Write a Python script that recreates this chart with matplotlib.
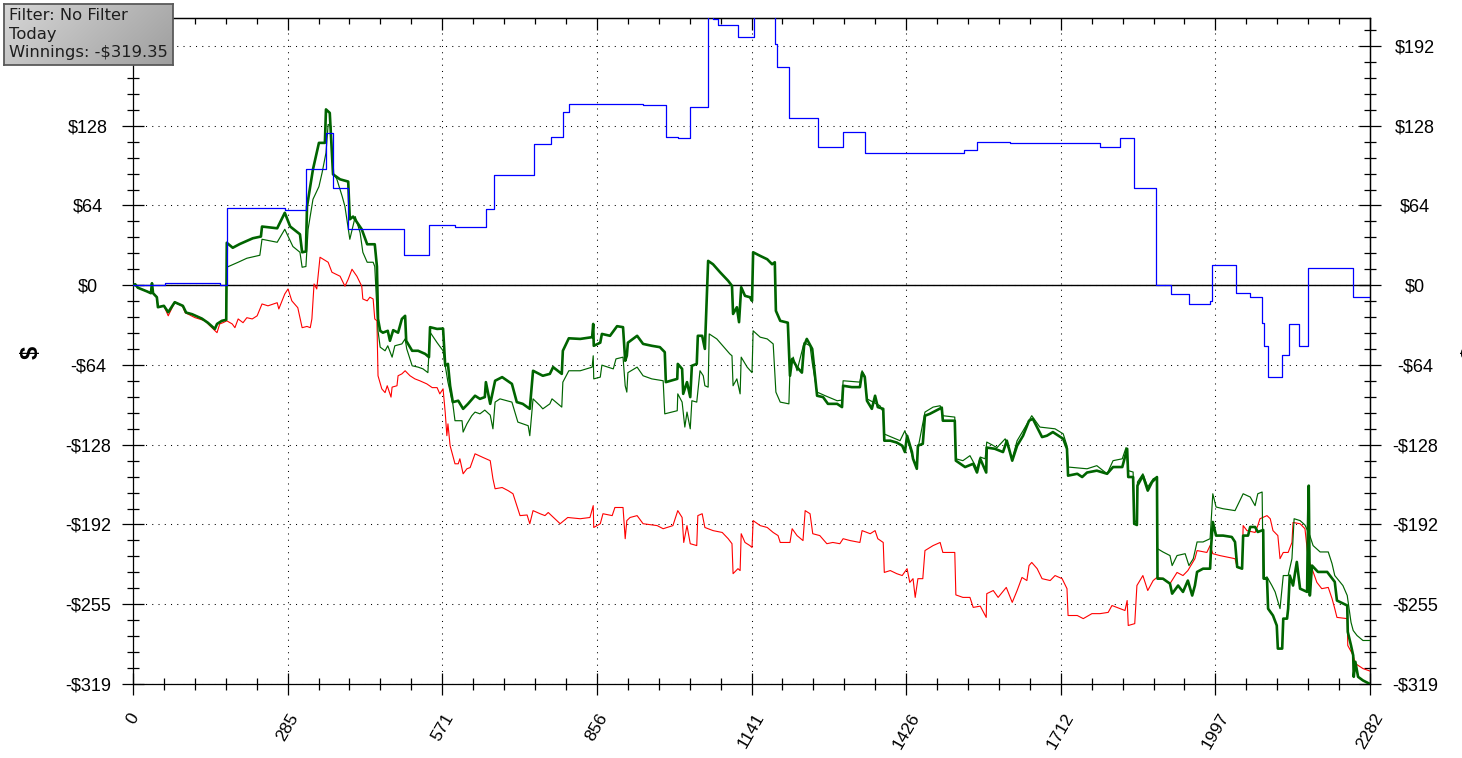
import matplotlib
matplotlib.use("Agg")
import matplotlib.pyplot as plt
import numpy as np
from matplotlib.ticker import FixedLocator

plt.rcParams["font.family"] = ["Liberation Sans", "DejaVu Sans"]

# ---------------- data ----------------
x_tick_labels = ["0", "285", "571", "856", "1141", "1426", "1712", "1997", "2282"]
y_tick_labels = ["-$319", "-$255", "-$192", "-$128", "-$64", "$0", "$64", "$128", "$192"]
# left-side labels: the top one is hidden behind the info box in the original
y_tick_labels_left = ["-$319", "-$255", "-$192", "-$128", "-$64", "$0", "$64", "$128", ""]
total_hands = 2282
final_winnings = -319.35

# Showdown winnings (blue, step line)
sd_hands = [0, 59, 160, 173, 280, 319, 356, 369, 397, 500, 546, 594, 651, 666, 740, 771, 793, 804,
            941, 983, 1005, 1028, 1061, 1070, 1079, 1116, 1146, 1184, 1188, 1210, 1264, 1310, 1350,
            1533, 1557, 1618, 1784, 1820, 1847, 1887, 1915, 1948, 1987, 1991, 2035, 2061, 2083,
            2086, 2094, 2119, 2133, 2151, 2168, 2251, 2282]
sd_dollars = [0, 1.4, 0.5, 61.6, 60, 92.8, 121.6, 78, 44.8, 24, 48, 47, 60.8, 88, 112.8, 119, 139, 144.8,
              144, 118.4, 117.6, 143, 240, 213, 208, 198.4, 235, 193, 175, 133.6, 111, 123, 105.6,
              108, 115, 113.6, 111, 117.6, 78, 0, -7.2, -15, -13, 16, -6.6, -9.6, -30,
              -48.8, -73.6, -56, -31, -48.8, 13.6, -9.6, -9.6]

# Net won (thick green)
won_hands = [0, 4, 9, 26, 33, 35, 37, 44, 46, 57, 65, 77, 92, 98, 109, 127, 138, 151, 155, 164, 172,
             173, 184, 197, 221, 236, 238, 266, 280, 290, 308, 312, 319, 321, 332, 343, 354, 356, 363,
             369, 382, 397, 400, 406, 422, 432, 446, 450, 452, 456, 461, 470, 474, 480, 489, 496, 502,
             504, 515, 526, 539, 546, 548, 561, 572, 576, 581, 585, 590, 600, 609, 618, 631, 640, 649,
             651, 659, 668, 681, 699, 708, 719, 732, 738, 756, 769, 775, 791, 793, 804, 825, 847, 849,
             850, 862, 865, 880, 893, 904, 908, 911, 913, 930, 941, 957, 972, 981, 983, 1004, 1005,
             1013, 1015, 1022, 1028, 1031, 1040, 1042, 1050, 1055, 1061, 1070, 1083, 1098, 1105, 1107,
             1114, 1118, 1122, 1129, 1138, 1142, 1144, 1157, 1170, 1179, 1184, 1186, 1194, 1208, 1212,
             1216, 1225, 1234, 1238, 1243, 1253, 1262, 1273, 1282, 1299, 1308, 1310, 1326, 1341, 1345,
             1350, 1354, 1363, 1369, 1374, 1384, 1386, 1397, 1409, 1419, 1424, 1428, 1437, 1439, 1446,
             1448, 1457, 1461, 1470, 1492, 1494, 1516, 1518, 1535, 1550, 1557, 1563, 1574, 1575, 1590,
             1605, 1612, 1622, 1631, 1642, 1653, 1660, 1677, 1686, 1697, 1716, 1723, 1725, 1742, 1751,
             1760, 1778, 1797, 1808, 1825, 1834, 1836, 1845, 1847, 1852, 1853, 1863, 1872, 1880, 1889,
             1890, 1900, 1913, 1917, 1928, 1937, 1946, 1954, 1959, 1963, 1974, 1987, 1989, 1992, 1998,
             2011, 2027, 2033, 2037, 2046, 2048, 2057, 2061, 2070, 2075, 2085, 2086, 2092, 2094, 2103,
             2110, 2112, 2120, 2122, 2129, 2131, 2134, 2140, 2147, 2153, 2166, 2167, 2169, 2171, 2175,
             2186, 2203, 2208, 2217, 2221, 2240, 2241, 2247, 2251, 2252, 2255, 2260, 2269, 2282]
won_dollars = [0, 0.8, -2, -5, -6.4, 1.6, -6.4, -9.6, -17.6, -16.5, -21.6, -13.6, -16.5, -21.9, -23.2,
               -26.7, -30, -35, -31, -28.5, -27.7,
               34, 30, 33, 37.6, 39, 47, 45.6, 58, 47, 40.8, 26.4, 27, 63, 92.8, 114, 114, 140.8, 138,
               88.8, 84.8, 83, 52.8, 55, 44.8, 32.8, 32.8, 15, -27, -36.5, -38, -36.5, -44.5, -36, -38,
               -27, -24.5,
               -44.5, -52.5, -52.5, -55, -57.6, -33.6, -35, -34.7, -64.5, -63, -80.5, -93.6, -92.5,
               -99, -95, -88.5, -91, -89.6,
               -77.6, -95, -76.5, -73.6, -79, -93.6, -95, -99, -68.5, -72.5, -71, -65.6, -71, -52.5,
               -42.5, -43, -41.6, -31,
               -48.5, -46, -39, -40.5, -32.8, -33.6, -60.5, -56.5, -46, -40.5, -47, -48.5, -49.6,
               -53.6, -77.6, -75, -63,
               -67, -87, -77.6, -89.6, -64.5, -63, -40.5, -40.5, -51, 19.5, 16.8, 10.4, 3.5, -0.5, -23,
               -17.6, -29.6, -1.6, -8.5, -9.6, -12.5, 26.4, 23.5, 20.8, 16.8, 18.4, -20.5, -28.5, -30,
               -72.5,
               -59, -65.6, -70, -48.5, -43, -51, -88.5, -89.6, -95, -95, -97.6, -80.5, -81.6, -81.6,
               -70,
               -73.6, -92.5, -99, -88.5, -97.6, -99, -124.5, -124.5, -126, -128.5, -133.6, -120.5,
               -133.6, -139, -147,
               -128.5, -127, -104.5, -103, -98, -108.5, -108.5, -140.5, -145.6, -143, -150, -139, -150,
               -130, -131,
               -133.6, -124.5, -140.5, -128.5, -120.5, -108.5, -107, -121.6, -120.5, -117.6, -123,
               -131, -152.5, -151, -153.6,
               -150, -148.5, -151, -145.6, -145.6, -131, -153.6, -153.6, -191, -192, -160.5, -152.5,
               -164.5, -157.6, -153.6,
               -235, -235, -239, -247, -240.5, -245.6, -236.5, -248.5, -240.5, -229.6, -227, -227,
               -208.5, -189.6, -200.5,
               -200.5, -201.6, -205.6, -225.6, -227, -200.5, -200.5, -193.6, -193.6, -197.6, -196,
               -235, -235, -259, -264.5,
               -272.5, -291, -291, -267, -267, -259, -232.5, -240.5, -221.6, -243, -245.6, -208.5,
               -160.5, -248.5, -224.5,
               -229.6, -229.6, -232.5, -237.6, -252.5, -256.5, -277.6, -288.5, -296.5, -313.6, -301.6,
               -313.6, -316.5, -319.35]

# All-in EV (thin green)
ev_hands = [0, 4, 9, 26, 33, 35, 37, 44, 46, 57, 65, 77, 92, 98, 109, 127, 138, 151, 155, 164, 172,
            173, 194, 210, 234, 238, 266, 280, 295, 308, 312, 319, 323, 332, 343, 349, 356, 360, 365,
            369, 376, 386, 391, 400, 410, 419, 424, 432, 443, 446, 452, 456, 465, 470, 478, 483, 496,
            502, 505, 515, 526, 535, 544, 548, 561, 572, 576, 581, 590, 594, 607, 609, 616, 625, 631,
            640, 649, 659, 664, 668, 677, 699, 710, 729, 732, 738, 751, 756, 769, 773, 791, 793, 804,
            825, 847, 849, 850, 862, 865, 886, 891, 904, 908, 911, 913, 930, 941, 957, 978, 981, 1004,
            1005, 1013, 1018, 1022, 1028, 1031, 1040, 1046, 1052, 1055, 1061, 1063, 1077, 1088, 1101,
            1105, 1107, 1114, 1120, 1122, 1133, 1142, 1144, 1157, 1170, 1181, 1186, 1194, 1210, 1212,
            1218, 1225, 1238, 1249, 1253, 1262, 1277, 1299, 1308, 1310, 1341, 1345, 1350, 1354, 1378,
            1384, 1385, 1415, 1424, 1439, 1446, 1448, 1461, 1476, 1489, 1494, 1516, 1518, 1531, 1544,
            1557, 1563, 1572, 1575, 1594, 1609, 1622, 1631, 1642, 1658, 1673, 1701, 1716, 1723, 1725,
            1760, 1778, 1797, 1808, 1825, 1832, 1836, 1845, 1847, 1852, 1853, 1863, 1872, 1882, 1889,
            1890, 1900, 1913, 1917, 1926, 1941, 1948, 1956, 1963, 1974, 1987, 1992, 1998, 2011, 2033,
            2048, 2061, 2070, 2075, 2083, 2085, 2092, 2101, 2107, 2116, 2122, 2131, 2138, 2142, 2153,
            2162, 2171, 2177, 2190, 2205, 2212, 2217, 2232, 2240, 2247, 2251, 2258, 2269, 2282]
ev_dollars = [0, 0.8, -2, -5, -6.4, 1.6, -6.4, -9.6, -17.6, -16.5, -21.6, -13.6, -16.5, -21.9, -23.2,
              -26.7, -30, -35, -31, -28.5, -27.7,
              14.4, 18.4, 21.6, 24, 36.8, 34.4, 44.8, 31, 26.4, 14.4, 15, 44.8, 68.8, 79, 90.4, 106,
              128.8, 127.5,
              90, 85, 71, 63, 36.8, 55, 42, 26.4, 18.4, 18.4, 15, -36.5, -49.6, -52.5, -48.5, -57.6,
              -48.5, -47,
              -43, -51, -64.5, -65.6, -67, -70, -37.6, -46, -52.5, -64.5, -77.6, -95, -108.5, -108.5,
              -117.6, -111, -104.5, -101.6,
              -103, -100, -104, -115, -93.6, -91, -93.6, -109.6, -112.5, -120.5, -91, -96.5, -99,
              -95, -91, -97.6, -77.6, -68.5,
              -68.5, -65.6, -56.5, -75, -73.6, -64, -67, -59, -57.6, -80.5, -85.6, -70, -65.6, -72.5,
              -75, -76.5, -103, -100.5,
              -87, -93.6, -113.6, -101.6, -115, -92.5, -93.6, -68.5, -72.5, -80.5, -81.6, -39, -43,
              -48.5, -55,
              -56.5, -80.5, -75, -87, -57.6, -65.6, -70, -36.5, -41.6, -43, -47, -85.6, -93.6, -95,
              -67,
              -57.6, -68.5, -46, -48.5, -62, -85.6, -88.5, -92.5, -92, -76.5, -77.6, -68.5, -72.5,
              -91, -96.5,
              -101.6, -119, -124.5, -116.5, -139, -144.5, -131, -101.6, -97.6, -96.5, -104.5, -105.6,
              -139, -140.5, -136.5,
              -147, -137.6, -139, -125.6, -130, -123, -139, -124.5, -116.5, -104.5, -113.6, -115,
              -119, -128.5, -145.6,
              -147, -144.5, -151, -140.5, -139, -130, -148.5, -149.6, -188.5, -189.6, -157.6, -151,
              -161.6, -155, -153.6,
              -211, -213.6, -216.5, -224.5, -216.5, -215, -224.5, -219, -205.6, -205.6, -203, -167,
              -177.6, -179, -180.5,
              -167, -169.6, -176.5, -167, -165.6, -235, -233.6, -240.5, -245.6, -259, -232.5, -232.5,
              -219, -187, -188.5,
              -192, -200.5, -208.5, -213.6, -213.6, -223, -232.5, -240.5, -248.5, -270, -276.5,
              -280.5, -284.5, -284.5]

# Non-showdown winnings (red)
nsd_hands = [0, 4, 9, 26, 33, 37, 44, 46, 57, 65, 77, 92, 96, 114, 133, 142, 155, 160, 166, 173, 183,
             188, 194, 203, 210, 220, 229, 238, 249, 266, 269, 275, 280, 286, 293, 304, 312, 321, 327,
             330, 334, 339, 345, 360, 367, 382, 391, 397, 404, 413, 422, 424, 432, 437, 443, 446, 450,
             452, 459, 465, 469, 476, 478, 487, 489, 496, 502, 511, 520, 529, 542, 552, 561, 566, 572,
             576, 579, 581, 585, 594, 600, 603, 609, 616, 622, 631, 646, 659, 664, 668, 681, 692, 701,
             708, 714, 727, 732, 738, 751, 760, 766, 788, 802, 825, 843, 849, 850, 862, 867, 884, 889,
             904, 908, 911, 917, 930, 941, 967, 978, 996, 1005, 1013, 1016, 1022, 1028, 1040, 1042,
             1050, 1055, 1070, 1087, 1098, 1105, 1107, 1116, 1120, 1122, 1129, 1138, 1142, 1144, 1157,
             1170, 1181, 1190, 1194, 1212, 1216, 1225, 1236, 1240, 1249, 1254, 1267, 1280, 1291, 1304,
             1310, 1323, 1341, 1345, 1360, 1369, 1374, 1384, 1386, 1397, 1409, 1419, 1428, 1433, 1439,
             1443, 1448, 1457, 1461, 1476, 1489, 1494, 1516, 1518, 1531, 1544, 1550, 1563, 1574, 1575,
             1587, 1596, 1611, 1622, 1631, 1640, 1649, 1653, 1658, 1668, 1677, 1692, 1701, 1714, 1723,
             1725, 1742, 1753, 1769, 1784, 1799, 1806, 1815, 1830, 1834, 1836, 1848, 1852, 1863, 1872,
             1882, 1889, 1900, 1913, 1926, 1937, 1946, 1959, 1963, 1981, 1987, 1992, 2005, 2033, 2037,
             2046, 2048, 2055, 2070, 2075, 2079, 2092, 2098, 2103, 2112, 2116, 2122, 2131, 2138, 2140,
             2153, 2162, 2168, 2175, 2184, 2193, 2205, 2212, 2217, 2221, 2240, 2241, 2251, 2255, 2269,
             2282]
nsd_dollars = [0, 0.8, -2, -5, -6.4, -6.4, -9.6, -17.6, -16.5, -24.5, -13.6, -17, -21.9, -25.9, -28.5,
               -32.5, -38, -31, -30, -28.5, -31,
               -34, -27, -30, -26, -27, -24.5, -15, -16.5, -14, -19, -12.5, -7, -3, -12.5, -18, -34,
               -33, -34,
               -27, 1, -3, 22.4, 18.4, 10.4, 7.2, -0.8, 4.8, 12.8, 7.2, -0.8, -11, -12.5, -9.6, -11,
               -27, -28.5,
               -72.5, -83, -86, -80.5, -89.6, -81.6, -80.5, -72.5, -71, -68.5, -72.5, -75, -76.5, -79,
               -82, -82, -87, -83,
               -102, -120.5, -111, -128.5, -143, -143, -139, -151, -147, -146, -135, -138, -140.5,
               -155, -163, -162, -164.5, -167,
               -176.5, -184.5, -184, -191, -180.5, -183, -184.5, -182, -191, -186, -187, -186, -176.5,
               -194, -191, -183, -184.5, -178,
               -178, -203, -188.5, -186, -184.5, -191, -192.5, -195, -192.5, -180.5, -186, -206,
               -192.5, -207, -208.5, -184.5,
               -183, -194, -196.5, -198, -203, -207, -231, -227, -228.5, -199, -206, -208.5, -210,
               -188.5, -192.5,
               -194, -198, -200.5, -206, -206, -195, -200.5, -204.5, -180.5, -183, -199, -200.5, -207,
               -206, -207,
               -203, -204.5, -206, -196.5, -199, -196.5, -203, -206, -230, -228.5, -231, -232.5, -227,
               -238, -235,
               -250, -235, -235, -212.5, -208.5, -206, -214, -214, -248, -250, -250, -258, -257, -266,
               -247,
               -244.5, -250, -242, -254, -244.5, -234, -236.5, -224.5, -222, -227, -235, -236.5,
               -232.5, -235, -243,
               -264.5, -264.5, -267, -263, -263, -262, -256.5, -258, -260.5, -252.5, -272.5, -271,
               -240.5, -232.5, -244.5,
               -236.5, -234, -235, -239, -230, -232.5, -228.5, -219, -212.5, -214, -208.5, -215,
               -216.5, -219, -226,
               -227, -192.5, -196.5, -198, -192.5, -187, -184.5, -187, -196.5, -200.5, -219, -214,
               -214, -206, -190,
               -191, -195, -219, -227, -238, -243, -242, -251, -259, -266, -267, -288.5, -296.5, -303,
               -307, -309]

# ---------------- figure ----------------
W, H = 1462, 758
fig = plt.figure(figsize=(W / 100, H / 100), dpi=100)
fig.patch.set_facecolor("white")
ax = fig.add_axes([133 / W, (H - 684) / H, (1370 - 133) / W, (684 - 18) / H])

y_step = -final_winnings / 5
y_major = [final_winnings + k * y_step for k in range(9)]
y_minor = [final_winnings + k * y_step / 5 for k in range(46)]
x_major = [k * total_hands / 8 for k in range(9)]
x_minor = [k * total_hands / 40 for k in range(41)]

ax.set_xlim(0, total_hands)
ax.set_ylim(final_winnings, 214)

ax.grid(True, which="major", color="black", linestyle=(0, (1, 5)), linewidth=0.75)
ax.axhline(0, color="black", lw=1.0, zorder=1.5)

ax.plot(nsd_hands, nsd_dollars, color="#ff0000", lw=0.8, zorder=2)
ax.plot(ev_hands, ev_dollars, color="#006400", lw=0.85, zorder=3)
ax.plot(won_hands, won_dollars, color="#006400", lw=1.9, zorder=4)
ax.step(sd_hands, sd_dollars, where="post", color="#0000ff", lw=0.9, zorder=5)

# ticks
ax.set_xticks(x_major, labels=x_tick_labels, rotation=60)
ax.xaxis.set_minor_locator(FixedLocator(x_minor))
ax.set_yticks(y_major, labels=y_tick_labels_left, ha="center")
ax.yaxis.set_minor_locator(FixedLocator(y_minor))
ax.tick_params(axis="both", which="major", direction="inout", length=16.5, width=0.9,
               colors="black")
ax.tick_params(axis="y", which="major", labelsize=13, pad=24)
ax.tick_params(axis="x", which="major", labelsize=12.5, pad=11)
ax.tick_params(axis="both", which="minor", direction="inout", length=8, width=0.9)
ax.tick_params(top=False, right=False, which="both")
for s in ax.spines.values():
    s.set_linewidth(0.9)

sec_r = ax.secondary_yaxis("right")
sec_r.set_yticks(y_major, labels=y_tick_labels, ha="center")
sec_r.yaxis.set_minor_locator(FixedLocator(y_minor))
sec_r.tick_params(which="major", direction="inout", length=16.5, width=0.9, labelsize=13, pad=24)
sec_r.tick_params(which="minor", direction="inout", length=8, width=0.9)
sec_r.spines["right"].set_linewidth(0.9)

sec_t = ax.secondary_xaxis("top")
sec_t.set_xticks(x_major, labels=[""] * len(x_major))
sec_t.xaxis.set_minor_locator(FixedLocator(x_minor))
sec_t.tick_params(which="major", direction="in", length=8.5, width=0.9)
sec_t.tick_params(which="minor", direction="in", length=4.3, width=0.9)
sec_t.spines["top"].set_linewidth(0.9)

# axis "$" labels (the right one is partly cut by the image edge, as in the original)
fig.text(31 / W, 1 - 352 / H, "$", rotation=90, fontsize=17, fontweight="bold",
         ha="center", va="center")
fig.text(1472 / W, 1 - 352 / H, "$", rotation=90, fontsize=17, fontweight="bold",
         ha="center", va="center")

# info box
bax = fig.add_axes([4 / W, 1 - 65 / H, 169 / W, 61 / H])
u = np.linspace(0, 1, 200)[None, :]
v = np.linspace(0, 1, 60)[:, None]
g = 0.84 - 0.16 * u - 0.06 * v
bax.imshow(np.dstack([g, g, g]), aspect="auto", extent=(0, 1, 1, 0))
bax.set_xlim(0, 1)
bax.set_ylim(1, 0)
bax.set_xticks([])
bax.set_yticks([])
for s in bax.spines.values():
    s.set_color("#5a5a5a")
    s.set_linewidth(1.3)
for i, t in enumerate(["Filter: No Filter", "Today", "Winnings: -$319.35"]):
    fig.text(9 / W, 1 - (15 + 19 * i) / H, t, fontsize=11.8, family="DejaVu Sans",
             color="#1e1e1e", ha="left", va="center")

fig.savefig("out.png", dpi=100)
